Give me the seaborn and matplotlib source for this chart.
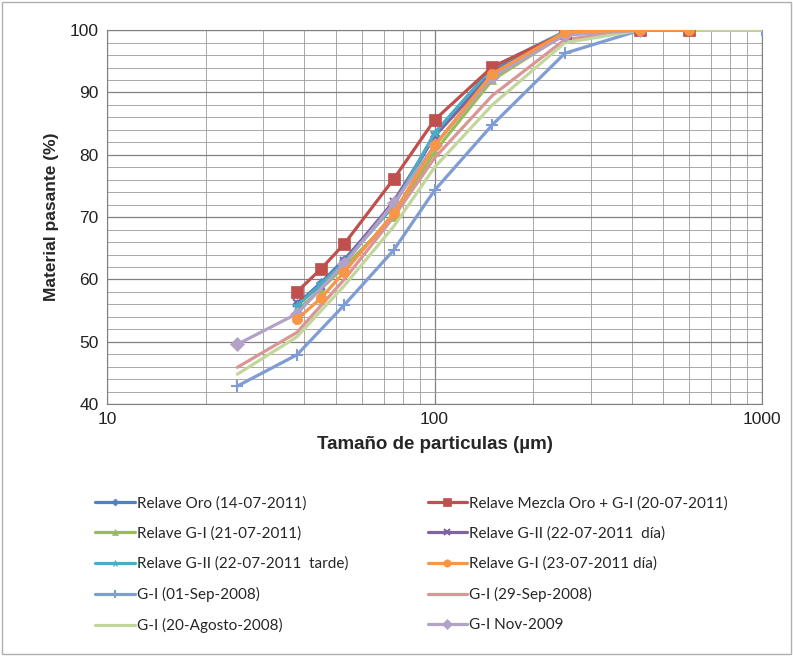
import numpy as np
import pandas as pd
import matplotlib
matplotlib.use("Agg")
import matplotlib.pyplot as plt
import seaborn as sns
from matplotlib.ticker import LogLocator, MultipleLocator, FixedLocator, NullFormatter

# ---- data (sizes in µm, % passing) ----
x_relave = [38, 45, 53, 75, 100, 150, 250, 425, 600]
x_old = [25, 38, 53, 75, 100, 150, 250, 425, 1000]
x_nov = [25, 38, 53, 75, 100, 150, 250, 425]

relave_oro = [56.0, 59.5, 63.2, 72.0, 83.0, 93.5, 99.7, 100, 100]
relave_mezcla = [58.0, 61.7, 65.7, 76.1, 85.6, 94.1, 99.6, 100, 100]
relave_gi_21 = [55.0, 58.5, 62.0, 70.0, 80.5, 92.0, 99.4, 100, 100]
relave_gii_dia = [56.2, 59.0, 63.0, 72.5, 83.0, 93.0, 99.6, 100, 100]
relave_gii_tarde = [55.8, 59.2, 62.8, 71.8, 83.5, 94.0, 99.8, 100, 100]
relave_gi_23 = [53.6, 57.0, 61.2, 70.6, 81.5, 93.0, 99.7, 100, 100]
gi_01sep = [42.9, 47.9, 55.9, 64.7, 74.3, 84.8, 96.3, 100, 100]
gi_29sep = [45.9, 51.5, 60.0, 70.0, 79.5, 89.5, 98.5, 100, 100]
gi_20ago = [44.8, 50.8, 59.0, 68.5, 78.0, 88.0, 98.0, 100, 100]
gi_nov09 = [49.6, 54.5, 62.5, 72.2, 81.5, 92.5, 99.2, 100]

labels = [
    "Relave Oro (14-07-2011)",
    "Relave Mezcla Oro + G-I (20-07-2011)",
    "Relave G-I (21-07-2011)",
    "Relave G-II (22-07-2011  día)",
    "Relave G-II (22-07-2011  tarde)",
    "Relave G-I (23-07-2011 día)",
    "G-I (01-Sep-2008)",
    "G-I (29-Sep-2008)",
    "G-I (20-Agosto-2008)",
    "G-I Nov-2009",
]
series_x = [x_relave] * 6 + [x_old] * 3 + [x_nov]
series_y = [relave_oro, relave_mezcla, relave_gi_21, relave_gii_dia, relave_gii_tarde,
            relave_gi_23, gi_01sep, gi_29sep, gi_20ago, gi_nov09]
colors = ["#4F81BD", "#C0504D", "#9BBB59", "#8064A2", "#4BACC6", "#F79646",
          "#7F9CD4", "#D99694", "#C3D69B", "#B3A2C7"]
markers = ["D", "s", "^", "x", "*", "o", "+", None, None, "D"]
msizes = [5, 8, 6, 6, 7, 7.5, 8, 0, 0, 7]
zorders = [3, 4, 3, 3, 3, 5, 3, 3, 3, 4.5]

sns.set_style("white")
plt.rcParams['font.family'] = ['Liberation Sans', 'DejaVu Sans']

fig = plt.figure(figsize=(7.93, 6.56), dpi=100)
ax = fig.add_axes([0.135, 0.384, 0.826, 0.570])

for i in range(10):
    df = pd.DataFrame({"x": series_x[i], "y": series_y[i]})
    sns.lineplot(data=df, x="x", y="y", ax=ax, color=colors[i], linewidth=2.3,
                 marker=markers[i] if markers[i] else None,
                 markersize=msizes[i], markeredgewidth=1.5 if markers[i] in ("x", "+") else 0.5,
                 markeredgecolor=colors[i], label=labels[i], zorder=zorders[i],
                 sort=True, estimator=None)

ax.set_xscale("log")
ax.set_xlim(10, 1000)
ax.set_ylim(40, 100)
ax.yaxis.set_major_locator(MultipleLocator(10))
ax.yaxis.set_minor_locator(MultipleLocator(2))
ax.xaxis.set_major_locator(FixedLocator([10, 100, 1000]))
ax.xaxis.set_minor_locator(LogLocator(base=10, subs=np.arange(2, 10)))
ax.xaxis.set_minor_formatter(NullFormatter())
ax.set_xticklabels(["10", "100", "1000"])
ax.grid(True, which="major", color="#808080", linewidth=0.9)
ax.grid(True, which="minor", color="#9a9a9a", linewidth=0.6)
ax.set_axisbelow(True)
for s in ax.spines.values():
    s.set_color("#808080")
ax.tick_params(axis="both", which="major", labelsize=12.5, length=0, pad=6, labelcolor="#222222")
ax.tick_params(axis="both", which="minor", length=0)

ax.set_xlabel("Tamaño de particulas (µm)", fontsize=13.5, fontweight="bold", labelpad=6)
ax.set_ylabel("Material pasante (%)", fontsize=12.5, fontweight="bold", labelpad=8)

h, l = ax.get_legend_handles_labels()
order = [0, 2, 4, 6, 8, 1, 3, 5, 7, 9]
leg = fig.legend([h[k] for k in order], [l[k] for k in order], ncol=2,
                 loc="upper left", bbox_to_anchor=(0.103, 0.265), frameon=False,
                 handlelength=2.6, handletextpad=0.1, columnspacing=5.2,
                 labelspacing=1.05, markerscale=0.7,
                 prop={"family": ["Lato", "DejaVu Sans"], "size": 11})
if ax.get_legend():
    ax.get_legend().remove()

# outer chart border
fig.patches.append(plt.Rectangle((0.003, 0.003), 0.994, 0.994, transform=fig.transFigure,
                                 fill=False, edgecolor="#b0b0b0", linewidth=1))

fig.savefig("out.png", dpi=100)
